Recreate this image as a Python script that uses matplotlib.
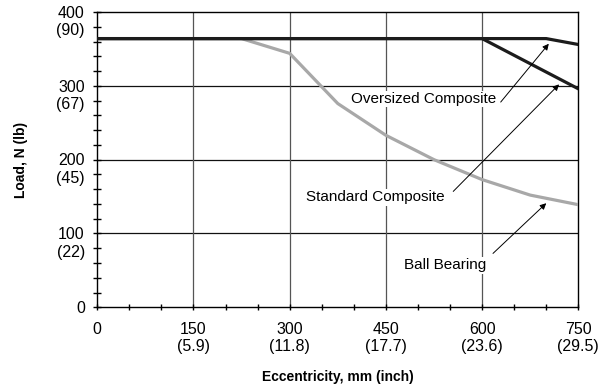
import matplotlib.pyplot as plt
from matplotlib.ticker import MultipleLocator
import matplotlib.transforms as mtransforms

plt.rcParams['font.family'] = ['Liberation Sans', 'DejaVu Sans']

# data (eccentricity in mm, load in N)
oversized_x = [0, 700, 750]
oversized_y = [364, 364, 356]

standard_x = [0, 600, 750]
standard_y = [364, 364, 296]

ball_x = [0, 225, 300, 375, 450, 525, 600, 675, 750]
ball_y = [364, 364, 344, 276, 233, 200, 173, 152, 139]

x_ticks = [0, 150, 300, 450, 600, 750]
x_tick_labels = ["0", "150\n(5.9)", "300\n(11.8)", "450\n(17.7)", "600\n(23.6)", "750\n(29.5)"]
y_ticks = [0, 100, 200, 300, 400]
y_tick_labels = ["0", "100\n(22)", "200\n(45)", "300\n(67)", "400\n(90)"]

fig = plt.figure(figsize=(6.06, 3.85), dpi=100)
ax = fig.add_axes([0.1605, 0.2018, 0.7938, 0.767])

# grid
for yv in y_ticks[1:-1]:
    ax.axhline(yv, color="#111111", lw=0.9, zorder=1)
for xv in x_ticks[1:-1]:
    ax.axvline(xv, color="#555555", lw=0.9, zorder=1)

ax.plot(ball_x, ball_y, color="#a8a8a8", lw=2.3, zorder=3)
ax.plot(standard_x, standard_y, color="#1c1c1c", lw=2.3, zorder=4)
ax.plot(oversized_x, oversized_y, color="#1c1c1c", lw=2.3, zorder=4)

ax.set_xlim(0, 750)
ax.set_ylim(0, 400)

ax.set_xticks(x_ticks)
ax.set_xticklabels(x_tick_labels, fontsize=11.5)
ax.set_yticks(y_ticks)
ax.set_yticklabels(y_tick_labels, fontsize=11.5)
ax.xaxis.set_minor_locator(MultipleLocator(50))
ax.yaxis.set_minor_locator(MultipleLocator(20))

ax.tick_params(axis="both", which="both", direction="inout", color="black", width=1)
ax.tick_params(axis="x", which="both", length=5, pad=8)
ax.tick_params(axis="y", which="both", length=6, pad=6)

# first line of y labels sits on the tick
offset = mtransforms.ScaledTranslation(0, 4.5 / 72, fig.dpi_scale_trans)
for lbl in ax.get_yticklabels():
    lbl.set_verticalalignment("top")
    lbl.set_multialignment("right")
    lbl.set_transform(lbl.get_transform() + offset)

for sp in ax.spines.values():
    sp.set_color("black")
    sp.set_linewidth(1)

ax.set_xlabel("Eccentricity, mm (inch)", fontsize=10, fontweight="bold", labelpad=11)
ax.set_ylabel("Load, N (lb)", fontsize=10, fontweight="bold", labelpad=20)

arrow = dict(arrowstyle="-|>", color="black", lw=0.7, mutation_scale=9, shrinkA=0, shrinkB=0)
box = dict(facecolor="white", edgecolor="none", pad=1)

ax.annotate("", xy=(704, 357), xytext=(629, 278), arrowprops=arrow, zorder=5)
ax.text(509, 282, "Oversized Composite", fontsize=11, ha="center", va="center", bbox=box, zorder=6)

ax.annotate("", xy=(720, 302), xytext=(555, 157), arrowprops=arrow, zorder=5)
ax.text(434, 149, "Standard Composite", fontsize=11, ha="center", va="center", bbox=box, zorder=6)

ax.annotate("", xy=(700, 141), xytext=(617, 73), arrowprops=arrow, zorder=5)
ax.text(542, 57, "Ball Bearing", fontsize=11, ha="center", va="center", bbox=box, zorder=6)

fig.savefig("out.png", dpi=100)
